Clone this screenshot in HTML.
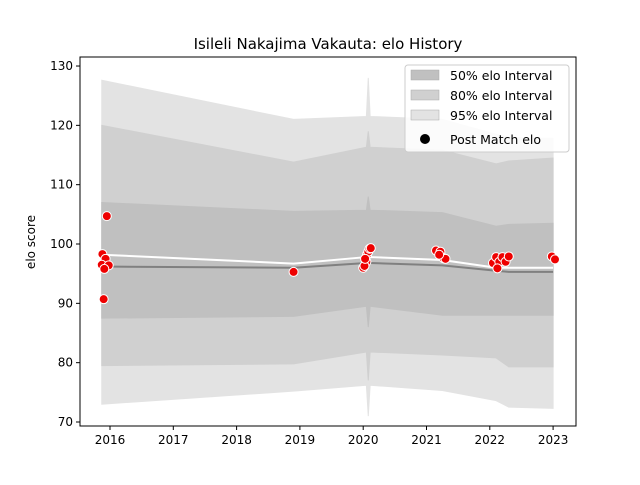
<!DOCTYPE html>
<html><head><meta charset="utf-8"><style>
body{margin:0;background:#fff;font-family:"Liberation Sans","DejaVu Sans",sans-serif;}
svg text{font-family:"DejaVu Sans","Liberation Sans",sans-serif;}
</style></head><body>
<svg id="c" width="640" height="480"></svg>
<script>
const dates=[2015.87,2018.9,2020.05,2020.08,2020.11,2021.25,2022.1,2022.3,2023.0];
const median=[96.2,96.0,96.8,96.8,96.8,96.4,95.5,95.3,95.3];
const mean=[98.2,96.7,97.8,97.8,97.8,97.3,96.0,96.0,96.0];
const up50=[107,105.5,105.7,108,105.7,105.3,103,103.3,103.5];
const lo50=[87.5,87.8,89.5,86,89.5,88,88,88,88];
const up80=[120,113.8,116.3,119,116.3,115.8,113.5,114,114.5];
const lo80=[79.5,79.8,81.8,77,81.8,81.3,80.8,79.3,79.3];
const up95=[127.6,121,121.5,128,121.5,121,118.5,118,117.8];
const lo95=[73,75.2,76.2,71,76.2,75.3,73.6,72.5,72.3];
const ptDates=[2015.95,2015.88,2015.93,2015.87,2015.98,2015.91,2015.9,2018.9,2020.05,2020.0,2020.02,2020.06,2020.08,2020.1,2020.12,2020.03,2021.15,2021.22,2021.27,2021.3,2021.2,2022.05,2022.1,2022.15,2022.2,2022.25,2022.3,2022.12,2022.98,2023.03];
const ptVals=[104.7,98.3,97.5,96.5,96.4,95.8,90.7,95.3,97.0,96.0,96.3,98.2,98.7,99.2,99.3,97.5,98.9,98.7,97.6,97.5,98.2,96.8,97.8,97.0,97.8,97.0,97.9,95.9,97.9,97.4];
const xTicks=[2016,2017,2018,2019,2020,2021,2022,2023];
const yTicks=[70,80,90,100,110,120,130];
const L=80,R=576,T=57,B=426;
const X=t=>110+(t-2016)*63.3;
const Y=v=>422-(v-70)*5.933;
const svg=document.getElementById('c');
const NS='http://www.w3.org/2000/svg';
function mk(tag,attrs,name){const e=document.createElementNS(NS,tag);for(const k in attrs)e.setAttribute(k,attrs[k]);


svg.appendChild(e);return e;}
function band(up,lo,fill,name){let d='M'+dates.map((t,i)=>X(t)+','+Y(up[i])).join('L');
for(let i=dates.length-1;i>=0;i--)d+='L'+X(dates[i])+','+Y(lo[i]);
mk('path',{d:d+'Z',fill:fill,stroke:fill,'stroke-width':1},name);}
band(up95,lo95,'#e3e3e3','band-95');
band(up80,lo80,'#d0d0d0','band-80');
band(up50,lo50,'#c0c0c0','band-50');
mk('polyline',{points:dates.map((t,i)=>X(t)+','+Y(median[i])).join(' '),fill:'none',stroke:'#808080','stroke-width':2},'median-line');
mk('polyline',{points:dates.map((t,i)=>X(t)+','+Y(mean[i])).join(' '),fill:'none',stroke:'#fff','stroke-width':2},'mean-line');
ptDates.forEach((t,i)=>{mk('circle',{cx:X(t),cy:Y(ptVals[i]),r:4.5,fill:'#e00',stroke:'#fff','stroke-width':1},'post-match-point');});
mk('rect',{x:L,y:T,width:R-L,height:B-T,fill:'none',stroke:'#000','stroke-width':1},'plot-frame');
xTicks.forEach(t=>{mk('line',{x1:X(t),x2:X(t),y1:B,y2:B+4,stroke:'#000'},'x-tick');
const tx=mk('text',{x:X(t),y:B+18,'text-anchor':'middle','font-size':12},'x-tick-label');tx.textContent=t;});
yTicks.forEach(v=>{mk('line',{x1:L-4,x2:L,y1:Y(v),y2:Y(v),stroke:'#000'},'y-tick');
const tx=mk('text',{x:L-7,y:Y(v)+4,'text-anchor':'end','font-size':12},'y-tick-label');tx.textContent=v;});
const tt=mk('text',{x:328,y:49,'text-anchor':'middle','font-size':15},'chart-title');tt.textContent='Isileli Nakajima Vakauta: elo History';
const yl=mk('text',{x:35,y:242,'text-anchor':'middle','font-size':12,transform:'rotate(-90 35 242)'},'y-axis-title');yl.textContent='elo score';
mk('rect',{x:405,y:65,width:164,height:87,fill:'#fff','fill-opacity':0.85,stroke:'#ccc',rx:3},'legend-box');
const lg=[['#c0c0c0','50% elo Interval'],['#d0d0d0','80% elo Interval'],['#e3e3e3','95% elo Interval']];
lg.forEach((g,i)=>{const y=70+i*20;mk('rect',{x:411,y:y,width:28,height:10,fill:g[0],stroke:'#aaa','stroke-width':0.5},'legend-swatch');
const t=mk('text',{x:450,y:y+10,'font-size':12.5},'legend-label');t.textContent=g[1];});
mk('circle',{cx:425,cy:139,r:5,fill:'#000'},'legend-marker');
const pl=mk('text',{x:450,y:144,'font-size':12.5},'legend-label');pl.textContent='Post Match elo';
</script></body></html>
